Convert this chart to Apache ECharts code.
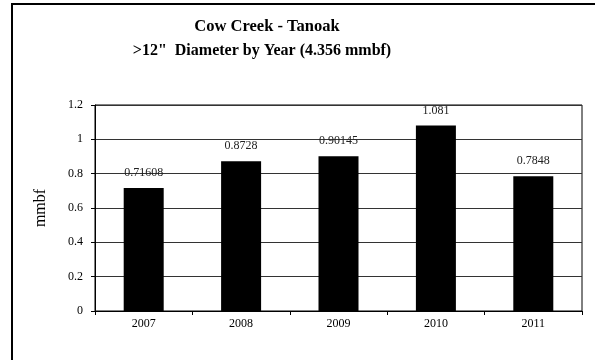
<!DOCTYPE html>
<html>
<head>
<meta charset="utf-8">
<script src="https://cdn.jsdelivr.net/npm/echarts@6/dist/echarts.min.js"></script>
<style>
  html, body { margin: 0; padding: 0; background: #fff; }
  #main { width: 595px; height: 360px; }
</style>
</head>
<body>
<div id="main"></div>
<script>
// data
var years = ['2007', '2008', '2009', '2010', '2011'];
var volume = [0.71608, 0.8728, 0.90145, 1.081, 0.7848];
var titleLines = ['Cow Creek - Tanoak', '>12"  Diameter by Year (4.356 mmbf)'];

var serif = '"Liberation Serif", "Times New Roman", serif';
var myChart = echarts.init(document.getElementById('main'));

var option = {
  backgroundColor: '#fff',
  animation: false,
  graphic: [
    {
      // outer frame, only top and left edges are inside the picture
      type: 'rect',
      shape: { x: 12, y: 4, width: 700, height: 500 },
      style: { fill: 'none', stroke: '#000', lineWidth: 2 }
    },
    {
      type: 'text',
      x: 267, y: 27,
      style: {
        text: titleLines[0], textAlign: 'center', textVerticalAlign: 'middle',
        font: 'bold 16.5px ' + serif, fill: '#000'
      }
    },
    {
      type: 'text',
      x: 262, y: 51,
      style: {
        text: titleLines[1], textAlign: 'center', textVerticalAlign: 'middle',
        font: 'bold 16px ' + serif, fill: '#000'
      }
    }
  ],
  grid: {
    left: 95, top: 105, right: 13, bottom: 49,
    show: true, borderColor: '#000', borderWidth: 1
  },
  xAxis: {
    type: 'category',
    data: years,
    boundaryGap: true,
    axisLine: { lineStyle: { color: '#000', width: 1 } },
    axisTick: { show: true, length: 4, inside: false, lineStyle: { color: '#000' } },
    axisLabel: { fontFamily: serif, fontSize: 12, color: '#000', margin: 7 }
  },
  yAxis: {
    type: 'value',
    min: 0, max: 1.2, interval: 0.2,
    name: 'mmbf',
    nameLocation: 'middle',
    nameGap: 46,
    nameRotate: 90,
    nameTextStyle: { fontFamily: serif, fontSize: 16, color: '#000' },
    axisLine: { show: true, lineStyle: { color: '#000', width: 1 } },
    axisTick: { show: true, length: 4, lineStyle: { color: '#000' } },
    axisLabel: { fontFamily: serif, fontSize: 12, color: '#000', margin: 12 },
    splitLine: { show: true, lineStyle: { color: '#333', width: 1 } }
  },
  series: [
    {
      type: 'bar',
      data: volume,
      barWidth: 40,
      itemStyle: { color: '#000' },
      label: {
        show: true,
        position: 'top',
        distance: 9,
        fontFamily: serif,
        fontSize: 12,
        color: '#222'
      }
    }
  ]
};

myChart.setOption(option);
</script>
</body>
</html>
